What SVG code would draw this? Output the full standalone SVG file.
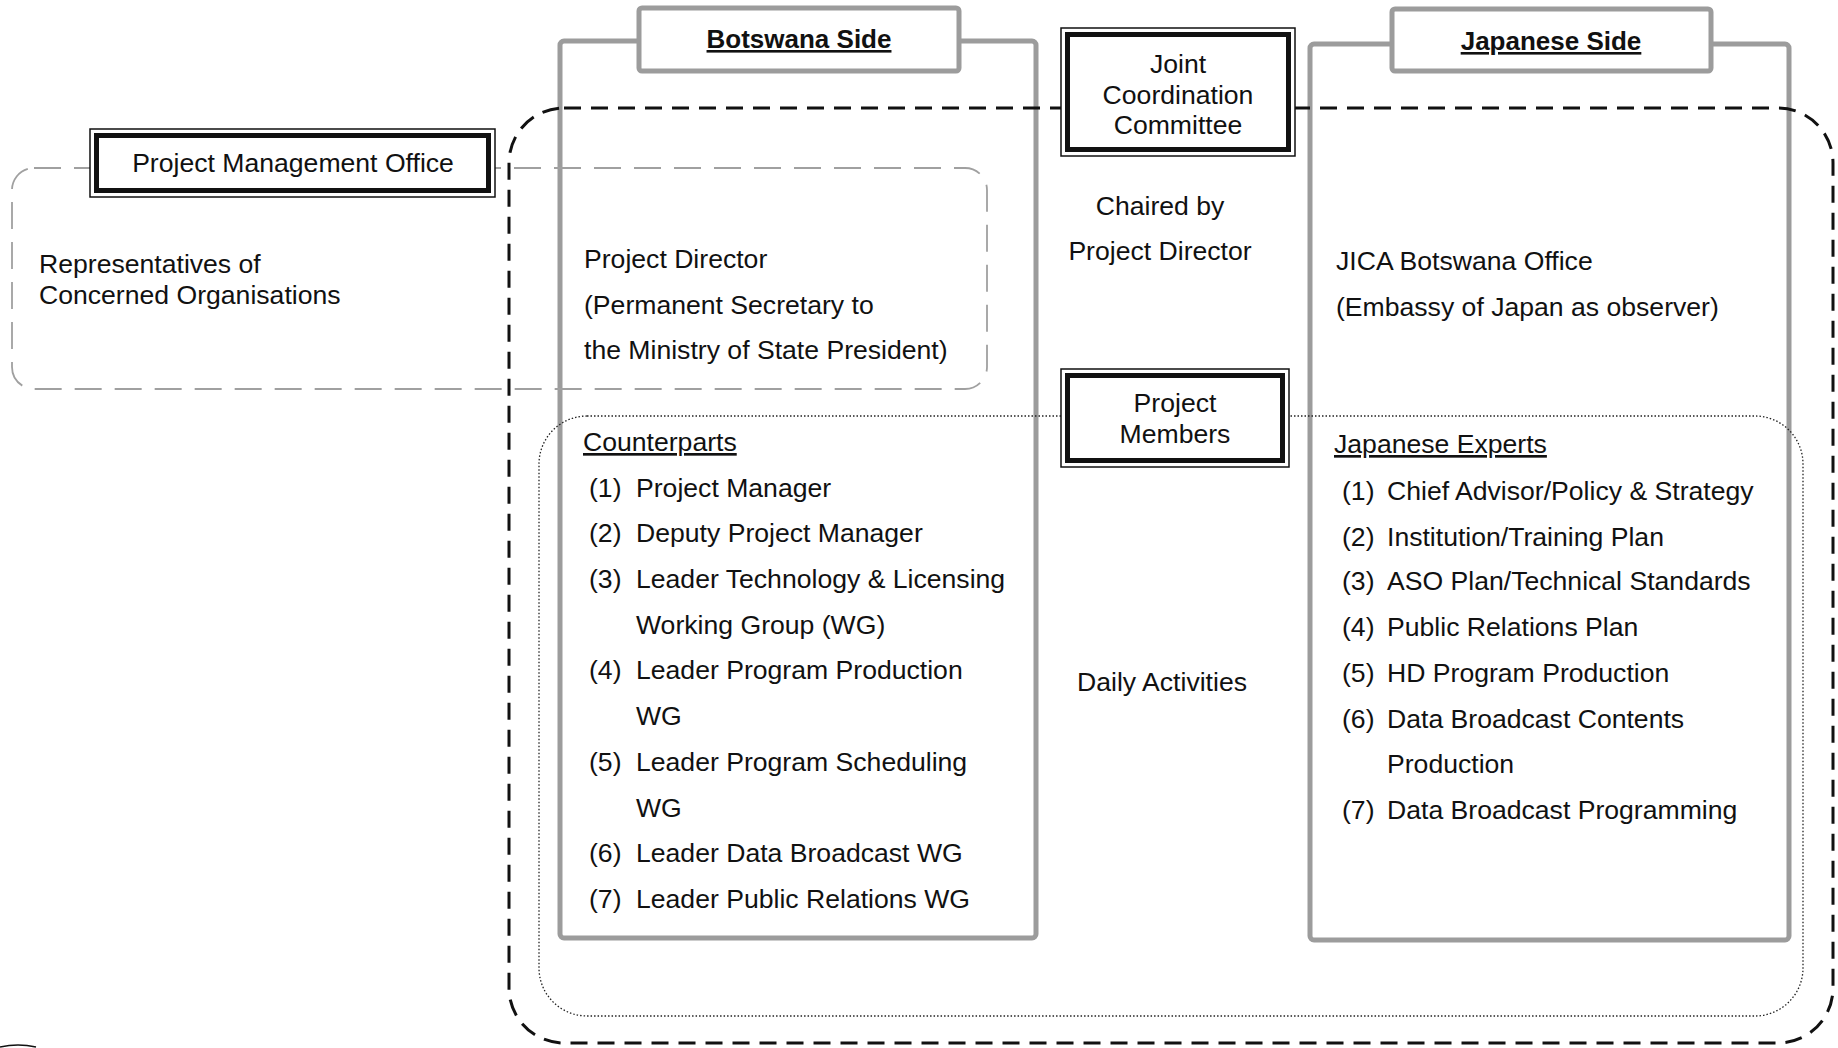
<svg xmlns="http://www.w3.org/2000/svg" width="1838" height="1048" viewBox="0 0 1838 1048">
<style>
.t{font-family:"Liberation Sans",Arial,sans-serif;font-size:26.6px;fill:#111}
.b{font-weight:bold;font-size:26px}
.u{text-decoration:underline}
.mid{text-anchor:middle}
.cont{fill:none;stroke:#9c9c9c;stroke-width:5}
.ttl{fill:#fff;stroke:#9c9c9c;stroke-width:5}
.outer{fill:#fff;stroke:#111;stroke-width:1.5}
.inner{fill:none;stroke:#111;stroke-width:5}
.gdash{fill:none;stroke:#a0a0a0;stroke-width:1.8;stroke-dasharray:27 13}
.bdash{fill:none;stroke:#111;stroke-width:3;stroke-dasharray:17 10}
.dot{fill:none;stroke:#222;stroke-width:1.3;stroke-dasharray:1.5 2}
</style>
<rect width="1838" height="1048" fill="#fff"/>

<g id="containers">
  <rect id="botswana-frame" class="cont" x="560" y="41" width="476" height="897" rx="4"/>
  <rect id="japanese-frame" class="cont" x="1310" y="44" width="479" height="896" rx="4"/>
</g>

<g id="connectors">
  <rect id="pmo-boundary" class="gdash" x="12" y="168" width="975" height="221" rx="22"/>
  <rect id="jcc-boundary" class="bdash" x="509" y="108" width="1324" height="935" rx="55"/>
  <rect id="members-boundary" class="dot" x="539" y="416" width="1264" height="600" rx="48"/>
  <path d="M0 1047 Q18 1043 36 1047" fill="none" stroke="#111" stroke-width="1.5"/>
</g>

<g id="botswana-side">
  <rect class="ttl" x="639" y="8" width="320" height="63" rx="3"/>
  <text class="t b u mid" x="799" y="48">Botswana Side</text>
</g>

<g id="japanese-side">
  <rect class="ttl" x="1392" y="9" width="319" height="62" rx="3"/>
  <text class="t b u mid" x="1551" y="50">Japanese Side</text>
</g>

<g id="pmo">
  <rect class="outer" x="90" y="129" width="405" height="68"/>
  <rect class="inner" x="96.5" y="135.5" width="392" height="55"/>
  <text class="t mid" x="293" y="172">Project Management Office</text>
</g>

<g id="representatives">
  <text class="t" x="39" y="273">Representatives of</text>
  <text class="t" x="39" y="304">Concerned Organisations</text>
</g>

<g id="project-director">
  <text class="t" x="584" y="268">Project Director</text>
  <text class="t" x="584" y="314">(Permanent Secretary to</text>
  <text class="t" x="584" y="359">the Ministry of State President)</text>
</g>

<g id="jcc">
  <rect class="outer" x="1061" y="28" width="234" height="128"/>
  <rect class="inner" x="1067.5" y="34.5" width="221" height="115"/>
  <text class="t mid" x="1178" y="73">Joint</text>
  <text class="t mid" x="1178" y="104">Coordination</text>
  <text class="t mid" x="1178" y="134">Committee</text>
</g>

<g id="chaired">
  <text class="t mid" x="1160" y="215">Chaired by</text>
  <text class="t mid" x="1160" y="260">Project Director</text>
</g>

<g id="jica">
  <text class="t" x="1336" y="270">JICA Botswana Office</text>
  <text class="t" x="1336" y="316">(Embassy of Japan as observer)</text>
</g>

<g id="project-members">
  <rect class="outer" x="1061" y="369" width="228" height="98"/>
  <rect class="inner" x="1067.5" y="375.5" width="215" height="85"/>
  <text class="t mid" x="1175" y="412">Project</text>
  <text class="t mid" x="1175" y="443">Members</text>
</g>

<g id="daily">
  <text class="t mid" x="1162" y="691">Daily Activities</text>
</g>

<g id="counterparts">
  <text class="t u" x="583" y="451">Counterparts</text>
  <text class="t" y="497"><tspan x="589">(1)</tspan><tspan x="636">Project Manager</tspan></text>
  <text class="t" y="542"><tspan x="589">(2)</tspan><tspan x="636">Deputy Project Manager</tspan></text>
  <text class="t" y="588"><tspan x="589">(3)</tspan><tspan x="636">Leader Technology &amp; Licensing</tspan></text>
  <text class="t" x="636" y="634">Working Group (WG)</text>
  <text class="t" y="679"><tspan x="589">(4)</tspan><tspan x="636">Leader Program Production</tspan></text>
  <text class="t" x="636" y="725">WG</text>
  <text class="t" y="771"><tspan x="589">(5)</tspan><tspan x="636">Leader Program Scheduling</tspan></text>
  <text class="t" x="636" y="817">WG</text>
  <text class="t" y="862"><tspan x="589">(6)</tspan><tspan x="636">Leader Data Broadcast WG</tspan></text>
  <text class="t" y="908"><tspan x="589">(7)</tspan><tspan x="636">Leader Public Relations WG</tspan></text>
</g>

<g id="japanese-experts">
  <text class="t u" x="1334" y="453">Japanese Experts</text>
  <text class="t" y="500"><tspan x="1342">(1)</tspan><tspan x="1387">Chief Advisor/Policy &amp; Strategy</tspan></text>
  <text class="t" y="546"><tspan x="1342">(2)</tspan><tspan x="1387">Institution/Training Plan</tspan></text>
  <text class="t" y="590"><tspan x="1342">(3)</tspan><tspan x="1387">ASO Plan/Technical Standards</tspan></text>
  <text class="t" y="636"><tspan x="1342">(4)</tspan><tspan x="1387">Public Relations Plan</tspan></text>
  <text class="t" y="682"><tspan x="1342">(5)</tspan><tspan x="1387">HD Program Production</tspan></text>
  <text class="t" y="728"><tspan x="1342">(6)</tspan><tspan x="1387">Data Broadcast Contents</tspan></text>
  <text class="t" x="1387" y="773">Production</text>
  <text class="t" y="819"><tspan x="1342">(7)</tspan><tspan x="1387">Data Broadcast Programming</tspan></text>
</g>
</svg>
